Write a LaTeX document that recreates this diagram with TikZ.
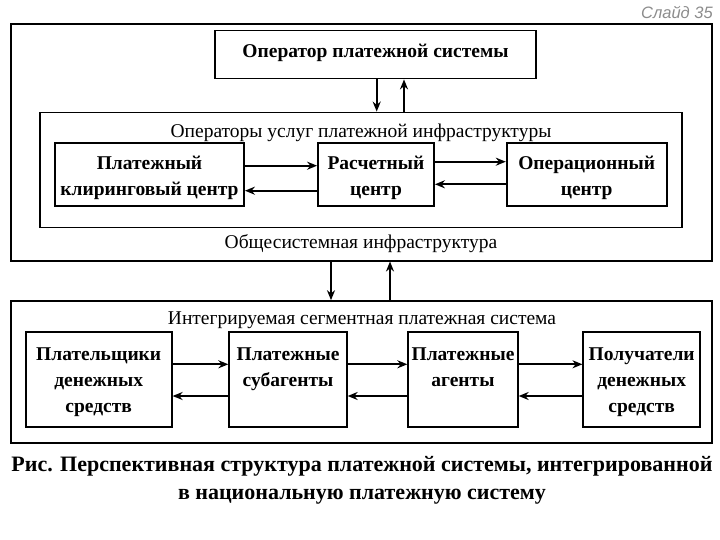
\documentclass[tikz,border=0pt]{standalone}
\usepackage{fontspec}
\setmainfont{Liberation Serif}
\newfontfamily\slidefont{Liberation Sans}
\usetikzlibrary{arrows.meta}
\begin{document}
\begin{tikzpicture}[x=1pt,y=-1pt,
  frame/.style={draw, line width=2pt},
  box/.style={draw, line width=1.8pt, inner sep=0pt},
  arr/.style={line width=1.8pt, -{Stealth[length=10pt,width=8pt]}},
  boldtxt/.style={font=\fontsize{19.5}{26}\selectfont\bfseries, align=center, inner sep=0pt},
  plain/.style={font=\fontsize{19.5}{22}\selectfont, inner sep=0pt}
]
\useasboundingbox (0,0) rectangle (720,540);
% slide label
\node[anchor=base east, font=\slidefont\itshape\fontsize{16.5}{18}\selectfont, text=black!45, inner sep=0pt] (slide) at (713,19) {Слайд 35};
% upper frame
\node[frame, minimum width=701pt, minimum height=236pt] (outer1) at (361.5,142.5) {};
\node[box, minimum width=321pt, minimum height=48pt] (op) at (375.5,54.5) {};
\node[boldtxt] (optxt) at (375.5,53) {Оператор платежной системы};
\node[box, minimum width=642pt, minimum height=115pt] (inner) at (361,170) {};
\node[plain] (innertxt) at (361,133) {Операторы услуг платежной инфраструктуры};
\node[box, minimum width=189pt, minimum height=63pt] (clr) at (149.5,174.2) {};
\node[boldtxt] (clrtxt) at (149.5,178) {Платежный\\клиринговый центр};
\node[box, minimum width=116pt, minimum height=63pt] (rc) at (376,174.2) {};
\node[boldtxt] (rctxt) at (376,178) {Расчетный\\центр};
\node[box, minimum width=160pt, minimum height=63pt] (oc) at (586.7,174.2) {};
\node[boldtxt] (octxt) at (586.7,178) {Операционный\\центр};
\node[plain] (outer1txt) at (361,244) {Общесистемная инфраструктура};
% arrows upper
\draw[arr] (op.south -| 376.7,0) -- (inner.north -| 376.7,0);
\draw[arr] (inner.north -| 404,0) -- (op.south -| 404,0);
\draw[arr] (clr.east |- 0,165.7) -- (rc.west |- 0,165.7);
\draw[arr] (rc.west |- 0,190.7) -- (clr.east |- 0,190.7);
\draw[arr] (rc.east |- 0,161.7) -- (oc.west |- 0,161.7);
\draw[arr] (oc.west |- 0,184.3) -- (rc.east |- 0,184.3);
% lower frame
\node[frame, minimum width=701pt, minimum height=142pt] (outer2) at (361.5,372.2) {};
\node[plain] (outer2txt) at (362,320) {Интегрируемая сегментная платежная система};
\node[box, minimum width=146pt, minimum height=94.5pt] (pay) at (98.7,379.5) {};
\node[boldtxt, anchor=north] (paytxt) at (98.7,347.5) {Плательщики\\денежных\\средств};
\node[box, minimum width=117.5pt, minimum height=94.5pt] (sub) at (288,379.5) {};
\node[boldtxt, anchor=north] (subtxt) at (288,347.5) {Платежные\\субагенты};
\node[box, minimum width=109.5pt, minimum height=94.5pt] (ag) at (463,379.5) {};
\node[boldtxt, anchor=north] (agtxt) at (463,347.5) {Платежные\\агенты};
\node[box, minimum width=116.7pt, minimum height=94.5pt] (rcv) at (641.7,379.5) {};
\node[boldtxt, anchor=north] (rcvtxt) at (641.7,347.5) {Получатели\\денежных\\средств};
% arrows between frames
\draw[arr] (outer1.south -| 331,0) -- (outer2.north -| 331,0);
\draw[arr] (outer2.north -| 390,0) -- (outer1.south -| 390,0);
% arrows lower
\draw[arr] (pay.east |- 0,364.3) -- (sub.west |- 0,364.3);
\draw[arr] (sub.west |- 0,396) -- (pay.east |- 0,396);
\draw[arr] (sub.east |- 0,364.3) -- (ag.west |- 0,364.3);
\draw[arr] (ag.west |- 0,396) -- (sub.east |- 0,396);
\draw[arr] (ag.east |- 0,364.3) -- (rcv.west |- 0,364.3);
\draw[arr] (rcv.west |- 0,396) -- (ag.east |- 0,396);
% caption
\node[font=\fontsize{22}{28}\selectfont\bfseries, align=center, inner sep=0pt] (cap) at (362,480) {Рис. Перспективная структура платежной системы, интегрированной\\в национальную платежную систему};
\end{tikzpicture}
\end{document}
